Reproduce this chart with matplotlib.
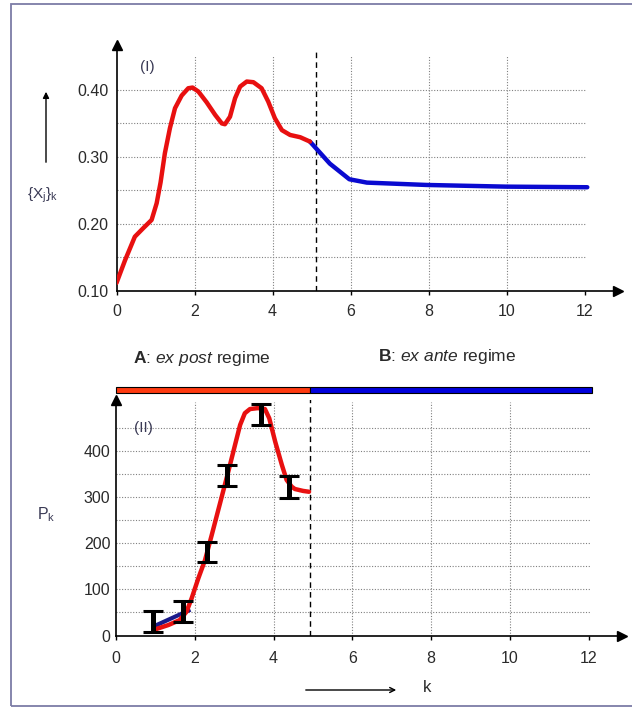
import matplotlib
matplotlib.use('Agg')
import matplotlib.pyplot as plt
from matplotlib.patches import Rectangle, FancyArrowPatch

plt.rcParams['font.family'] = ['Liberation Sans', 'DejaVu Sans']
plt.rcParams['mathtext.fontset'] = 'custom'
plt.rcParams['mathtext.rm'] = 'Liberation Sans'
plt.rcParams['mathtext.it'] = 'Liberation Sans:italic'
plt.rcParams['mathtext.bf'] = 'Liberation Sans:bold'

# ---------------- data ----------------
x_ticks = [0, 2, 4, 6, 8, 10, 12]
top_yticks = [0.10, 0.20, 0.30, 0.40]
top_ytick_labels = ['0.10', '0.20', '0.30', '0.40']
bot_yticks = [0, 100, 200, 300, 400]

top_red_x = [0.00, 0.22, 0.47, 0.69, 0.90, 1.03, 1.13, 1.24, 1.37, 1.50, 1.67,
             1.84, 1.95, 2.10, 2.31, 2.53, 2.70, 2.78, 2.91, 3.04, 3.17, 3.34,
             3.51, 3.72, 3.89, 4.06, 4.24, 4.45, 4.71, 4.96]
top_red_y = [0.112, 0.146, 0.181, 0.194, 0.206, 0.231, 0.262, 0.3055, 0.343,
             0.3727, 0.3915, 0.4025, 0.4035, 0.3975, 0.3816, 0.3627, 0.350,
             0.3488, 0.360, 0.3876, 0.405, 0.4125, 0.4115, 0.4025, 0.3826,
             0.3578, 0.340, 0.3328, 0.3294, 0.3229]
top_blue_x = [4.96, 5.47, 5.97, 6.42, 7.95, 9.98, 12.07]
top_blue_y = [0.3229, 0.290, 0.2667, 0.2617, 0.2582, 0.2557, 0.2548]

bot_red_x = [0.95, 1.33, 1.62, 1.79, 1.92, 2.09, 2.26, 2.43, 2.64, 2.85, 3.02,
             3.15, 3.27, 3.40, 3.60, 3.78, 3.89, 4.04, 4.21, 4.33, 4.46, 4.54,
             4.75, 4.90]
bot_red_y = [12, 22.7, 33.5, 51.5, 80.5, 123.8, 163.4, 217.5, 286, 354.6, 412,
             455.6, 481, 490, 492, 490, 470, 419.5, 369, 336.6, 322, 317,
             312.8, 311]
bot_blue_x = [0.99, 1.84]
bot_blue_y = [21, 54]

err_x = [0.93, 1.71, 2.30, 2.81, 3.68, 4.40]
err_y = [30, 51.6, 180.7, 346.7, 478, 321.7]
err_e = [23, 23, 22.3, 22.4, 22.4, 23.5]

regime_split_top = 5.12
regime_split_bot = 4.92
regime_end = 12.07

RED = '#e81010'
BLUE = '#0a0ad0'
BAR_RED = '#ff3a10'
BAR_BLUE = '#0000dd'
GRID = '#808080'
TXT = '#2a2a2a'
LBL = '#3a3a55'

W, H = 632, 707
fig = plt.figure(figsize=(W / 100, H / 100), dpi=100)


def fx(px):
    return px / W


def fy(py):
    return 1 - py / H


def style_axes(ax, pad_x, pad_y):
    for s in ('top', 'right'):
        ax.spines[s].set_visible(False)
    for s in ('left', 'bottom'):
        ax.spines[s].set_linewidth(1.2)
        ax.spines[s].set_color('k')
    ax.plot([1], [0], marker='>', color='k', ms=7, transform=ax.transAxes,
            clip_on=False, zorder=6)
    ax.plot([0], [1], marker='^', color='k', ms=7, transform=ax.transAxes,
            clip_on=False, zorder=6)
    ax.set_xticks(x_ticks)
    ax.tick_params(axis='x', length=3, width=1, pad=pad_x, labelsize=11.5,
                   labelcolor=TXT)
    ax.tick_params(axis='y', length=0, pad=pad_y, labelsize=11.5,
                   labelcolor=TXT)
    ax.set_facecolor('none')


# ---------------- top panel ----------------
ax1 = fig.add_axes([fx(116.5), fy(291), 501.2 / W, (291 - 45) / H])
ax1.set_xlim(0, 12.85)
ax1.set_ylim(0.10, 0.467)
style_axes(ax1, 6, 6)
ax1.set_yticks(top_yticks)
ax1.set_yticklabels(top_ytick_labels)
ax1.hlines([0.15, 0.20, 0.25, 0.30, 0.35, 0.40], 0, 12, colors=GRID,
           linestyles=(0, (1, 1.5)), lw=0.8, zorder=1)
ax1.vlines([2, 4, 6, 8, 10], 0.10, 0.452, colors=GRID,
           linestyles=(0, (1, 1.5)), lw=0.8, zorder=1)
ax1.vlines(regime_split_top, 0.10, 0.4627, colors='k',
           linestyles=(0, (4, 3)), lw=1.0, zorder=2)
ax1.plot(top_blue_x, top_blue_y, color=BLUE, lw=3.2, solid_capstyle='round',
         solid_joinstyle='round', zorder=3)
ax1.plot(top_red_x, top_red_y, color=RED, lw=3.2, solid_capstyle='round',
         solid_joinstyle='round', zorder=4)

# ---------------- bottom panel ----------------
ax2 = fig.add_axes([fx(116), fy(635.5), 506.3 / W, (635.5 - 399.8) / H])
ax2.set_xlim(0, 12.85)
ax2.set_ylim(0, 510)
style_axes(ax2, 8, 4)
ax2.set_yticks(bot_yticks)
ax2.hlines([50, 100, 150, 200, 250, 300, 350, 400, 450], 0, 12.05,
           colors=GRID, linestyles=(0, (1, 1.5)), lw=0.8, zorder=1)
ax2.vlines([2, 4, 6, 8, 10], 0, 505, colors=GRID,
           linestyles=(0, (1, 1.5)), lw=0.8, zorder=1)
ax2.vlines(regime_split_bot, 0, 524, colors='k',
           linestyles=(0, (4, 3)), lw=1.0, zorder=2)
ax2.plot(bot_blue_x, bot_blue_y, color='#1a1a8a', lw=3, zorder=3)
ax2.plot(bot_red_x, bot_red_y, color=RED, lw=3.2, solid_capstyle='round',
         solid_joinstyle='round', zorder=4)
ax2.errorbar(err_x, err_y, yerr=err_e, fmt='none', ecolor='k', elinewidth=3.6,
             capsize=7.5, capthick=2.2, zorder=5)

bars = ax2.barh([531, 531], [regime_split_bot, regime_end - regime_split_bot],
                left=[0, regime_split_bot], height=14.5,
                color=[BAR_RED, BAR_BLUE], edgecolor='k', lw=0.8, zorder=6)
for b in bars:
    b.set_clip_on(False)

# ---------------- annotations ----------------
fig.text(fx(147), fy(67.5), '(I)', ha='center', va='center', fontsize=11,
         color=LBL)
fig.text(fx(42), fy(195), r'{X$_\mathrm{j}$}$_\mathrm{k}$', ha='center',
         va='center', fontsize=11, color=LBL)
fig.text(fx(143), fy(428), '(II)', ha='center', va='center', fontsize=11,
         color=LBL)
fig.text(fx(46), fy(515), r'P$_\mathrm{k}$', ha='center', va='center',
         fontsize=11.5, color=LBL)
fig.text(fx(202), fy(358), r'$\mathbf{A}$: $\mathit{ex\ post}$ regime',
         ha='center', va='center', fontsize=12.5, color=TXT)
fig.text(fx(447), fy(357), r'$\mathbf{B}$: $\mathit{ex\ ante}$ regime',
         ha='center', va='center', fontsize=12.5, color=TXT)
fig.text(fx(427), fy(688), 'k', ha='center', va='center', fontsize=12,
         color=TXT)

fig.add_artist(FancyArrowPatch(
    (fx(46), fy(165)), (fx(46), fy(89)), transform=fig.transFigure,
    arrowstyle='-|>', mutation_scale=9, lw=1.0, color='k'))
fig.add_artist(FancyArrowPatch(
    (fx(303), fy(690)), (fx(399), fy(690)), transform=fig.transFigure,
    arrowstyle='->', mutation_scale=9, lw=1.0, color='k'))

fig.add_artist(Rectangle((fx(11), fy(706)), (645 - 11) / W, (706 - 4) / H,
                         transform=fig.transFigure, fill=False,
                         edgecolor='#7c7ca6', lw=1.3))

fig.savefig('out.png', dpi=100)
